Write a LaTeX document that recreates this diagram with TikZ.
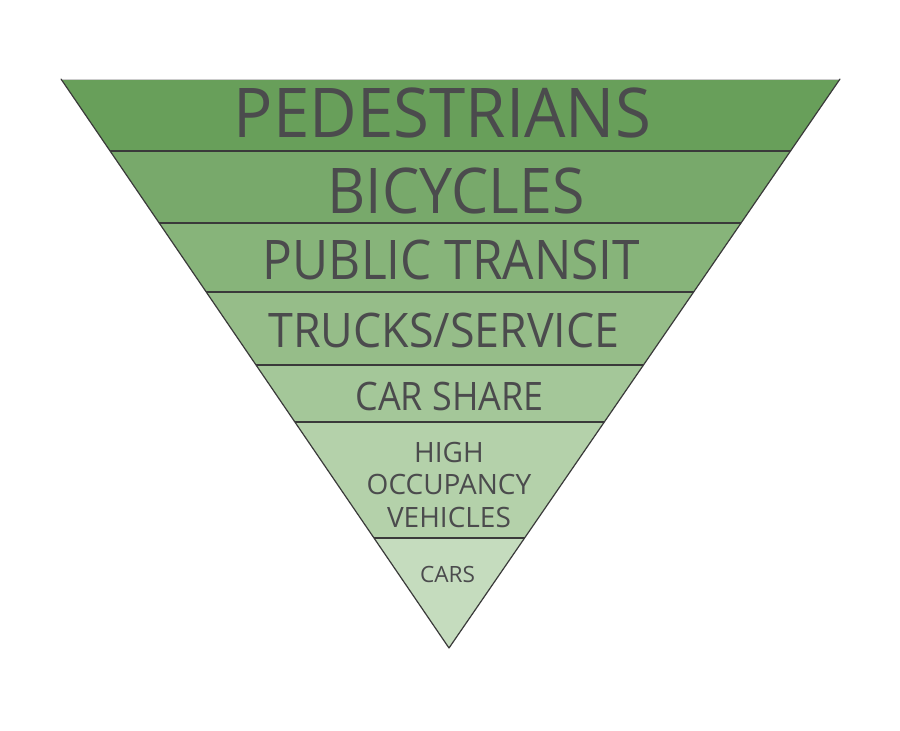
\documentclass[tikz,border=0pt]{standalone}
\usepackage{fontspec}
\setmainfont{Open Sans}
\usetikzlibrary{calc}
\definecolor{bA}{HTML}{689F5A}
\definecolor{bB}{HTML}{78A96B}
\definecolor{bC}{HTML}{87B47A}
\definecolor{bD}{HTML}{96BD89}
\definecolor{bE}{HTML}{A4C799}
\definecolor{bF}{HTML}{B4D1AA}
\definecolor{bG}{HTML}{C5DCBE}
\definecolor{ink}{HTML}{4B4B4D}
\definecolor{sep}{HTML}{3A3A3A}
\newcommand\fitt[3]{\resizebox{#1pt}{#2pt}{\fontsize{60}{60}\selectfont\smash{#3}\vphantom{H}}}
\tikzset{
  lbl/.style={inner sep=0pt, text=ink, anchor=base},
  sepline/.style={draw=sep, line width=1.4pt},
  side/.style={draw=sep, line width=1.2pt},
}
\begin{document}
\begin{tikzpicture}[x=1pt,y=-1pt]
\useasboundingbox (0,0) rectangle (900,731);
\fill[white] (0,0) rectangle (900,731);
\coordinate (TL) at (61,79);
\coordinate (TR) at (840,79);
\coordinate (A) at (449,648);
\begin{scope}
\clip (TL) -- (TR) -- (A) -- cycle;
\fill[bA] (0,79) rectangle (900,151);
\fill[bB] (0,151) rectangle (900,223);
\fill[bC] (0,223) rectangle (900,292);
\fill[bD] (0,292) rectangle (900,365);
\fill[bE] (0,365) rectangle (900,422);
\fill[bF] (0,422) rectangle (900,538);
\fill[bG] (0,538) rectangle (900,660);
\foreach \yy in {151,223,292,365,422,538}
  \draw[sepline] (0,\yy) -- (900,\yy);
\end{scope}
\draw[draw=black!20, line width=0.8pt] (TL) -- (TR);
\draw[side, line cap=round, line join=round] (TL) -- (A) -- (TR);
\node[lbl] (ped) at (442.5,137) {\fitt{417}{49}{PEDESTRIANS}};
\node[lbl] (bic) at (456,213) {\fitt{257}{45}{BICYCLES}};
\node[lbl] (pub) at (451.5,279) {\fitt{377}{39}{PUBLIC TRANSIT}};
\node[lbl] (tru) at (444,347) {\fitt{351}{34}{TRUCKS/SERVICE}};
\node[lbl] (csh) at (449.5,410) {\fitt{188}{28}{CAR SHARE}};
\node[lbl, align=center, font=\fontsize{28}{32.5}\selectfont, anchor=north] (hov) at (449,442) {\vphantom{H}HIGH\\OCCUPANCY\\VEHICLES};
\node[lbl] (car) at (447.5,582) {\fitt{55}{16}{CARS}};
\end{tikzpicture}
\end{document}
